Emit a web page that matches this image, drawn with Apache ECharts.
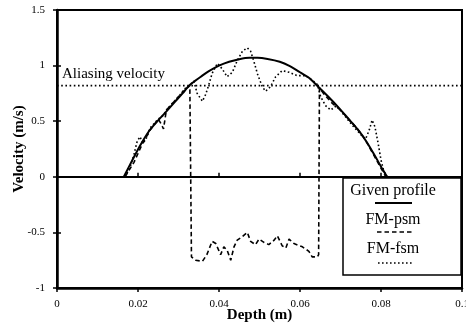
<!DOCTYPE html>
<html>
<head>
<meta charset="utf-8">
<script src="https://cdn.jsdelivr.net/npm/echarts@6/dist/echarts.min.js"></script>
<style>
html,body{margin:0;padding:0;background:#fff;}
#chart{width:466px;height:327px;}
</style>
</head>
<body>
<div id="chart"></div>
<script>
// ---- data ----
const xTickLabels = ['0', '0.02', '0.04', '0.06', '0.08', '0.1'];
const yTickLabels = ['-1', '-0.5', '0', '0.5', '1', '1.5'];

const profileDepth = [0.0165,0.0186,0.0205,0.0227,0.0248,0.0268,0.029,0.031,0.0326,0.034,0.0355,0.0375,0.04,0.0425,0.045,0.0475,0.0495,0.052,0.055,0.0575,0.06,0.0622,0.0645,0.067,0.0696,0.072,0.0746,0.0767,0.0787,0.0802,0.0815];
const profileVel   = [0,0.15,0.28,0.41,0.5,0.58,0.67,0.75,0.82,0.86,0.9,0.95,1.0,1.035,1.058,1.07,1.07,1.06,1.035,0.995,0.94,0.89,0.81,0.72,0.62,0.52,0.41,0.3,0.175,0.08,0];

const psmDepth = [0.0168,0.019,0.021,0.023,0.025,0.0258,0.0263,0.027,0.029,0.031,0.0328,0.0332,0.0342,0.0359,0.037,0.0383,0.0392,0.0404,0.0412,0.042,0.0429,0.0437,0.0445,0.0457,0.047,0.0478,0.049,0.0499,0.0511,0.0523,0.0536,0.0544,0.0556,0.0565,0.0573,0.0585,0.0606,0.0622,0.063,0.0643,0.0646,0.0648,0.066,0.068,0.07,0.072,0.074,0.076,0.078,0.0798,0.0812];
const psmVel   = [0,0.13,0.29,0.42,0.52,0.47,0.43,0.6,0.68,0.76,0.82,-0.72,-0.75,-0.76,-0.7,-0.58,-0.6,-0.7,-0.63,-0.66,-0.75,-0.63,-0.57,-0.54,-0.5,-0.58,-0.61,-0.56,-0.59,-0.61,-0.57,-0.53,-0.62,-0.64,-0.56,-0.6,-0.63,-0.67,-0.72,-0.72,-0.7,0.8,0.74,0.66,0.6,0.52,0.44,0.34,0.21,0.09,0];

const fsmDepth = [0.0168,0.018,0.019,0.0198,0.0205,0.0212,0.022,0.023,0.025,0.0262,0.027,0.0285,0.03,0.0315,0.0326,0.0338,0.0346,0.0359,0.0367,0.0375,0.0383,0.0396,0.0408,0.042,0.0433,0.0445,0.0458,0.047,0.0478,0.0486,0.0495,0.0507,0.0515,0.0527,0.054,0.0556,0.0573,0.0593,0.0614,0.063,0.0643,0.0651,0.0663,0.0676,0.069,0.071,0.073,0.075,0.0762,0.0771,0.0778,0.0785,0.0793,0.08,0.0807,0.0815];
const fsmVel   = [0,0.08,0.2,0.32,0.36,0.3,0.34,0.44,0.52,0.55,0.6,0.66,0.72,0.79,0.82,0.86,0.75,0.68,0.74,0.83,0.93,1.02,0.97,0.9,0.94,1.045,1.13,1.16,1.13,1.04,0.925,0.81,0.77,0.81,0.9,0.955,0.94,0.91,0.91,0.87,0.83,0.72,0.64,0.6,0.64,0.55,0.46,0.38,0.34,0.42,0.51,0.45,0.3,0.15,0.05,0];

const aliasDepth = [0, 0.1];
const aliasVel   = [0.82, 0.82];

// ---- chart ----
const FONT = 'Liberation Serif';
const pairs = (xs, ys) => xs.map((x, i) => [x, ys[i]]);

const chart = echarts.init(document.getElementById('chart'), null, {renderer: 'canvas'});

const xLabelFmt = v => xTickLabels[Math.round(v / 0.02)];
const yLabelFmt = v => yTickLabels[Math.round((v + 1) / 0.5)];

const option = {
  animation: false,
  backgroundColor: '#fff',
  textStyle: {fontFamily: FONT, color: '#000'},
  grid: {left: 57, right: 4, top: 10, bottom: 39, containLabel: false, outerBoundsMode: 'none',
         show: true, borderColor: '#000', borderWidth: 2, backgroundColor: 'transparent'},
  xAxis: [
    {
      type: 'value', min: 0, max: 0.1, interval: 0.02,
      name: 'Depth (m)', nameLocation: 'middle', nameGap: 20, nameMoveOverlap: false,
      nameTextStyle: {fontFamily: FONT, fontSize: 15, fontWeight: 'bold', color: '#000'},
      axisLine: {onZero: false, lineStyle: {color: '#000', width: 2.5}},
      axisTick: {length: 4, lineStyle: {color: '#000', width: 1.5}},
      axisLabel: {margin: 11, fontFamily: FONT, fontSize: 11, color: '#000', formatter: xLabelFmt},
      splitLine: {show: false}
    },
    {
      type: 'value', min: 0, max: 0.1, interval: 0.02, position: 'bottom',
      axisLine: {show: false},
      axisTick: {inside: true, length: 4, lineStyle: {color: '#000', width: 1.5}},
      axisLabel: {show: false}, splitLine: {show: false}
    }
  ],
  yAxis: [
    {
      type: 'value', min: -1, max: 1.5, interval: 0.5,
      name: 'Velocity (m/s)', nameLocation: 'middle', nameGap: 30, nameMoveOverlap: false,
      nameTextStyle: {fontFamily: FONT, fontSize: 15, fontWeight: 'bold', color: '#000'},
      axisLine: {onZero: false, lineStyle: {color: '#000', width: 2.5}},
      axisTick: {length: 4, lineStyle: {color: '#000', width: 1.5}},
      axisLabel: {margin: 12, fontFamily: FONT, fontSize: 11, color: '#000', formatter: yLabelFmt},
      splitLine: {show: false}
    },
    {
      type: 'value', min: -1, max: 1.5, interval: 0.5, position: 'left',
      axisLine: {show: false},
      axisTick: {inside: true, length: 4, lineStyle: {color: '#000', width: 1.5}},
      axisLabel: {show: false}, splitLine: {show: false}
    }
  ],
  series: [
    {
      name: 'Aliasing velocity', type: 'line', symbol: 'none', silent: true,
      data: pairs(aliasDepth, aliasVel),
      lineStyle: {color: '#000', width: 1.6, type: [1.6, 2.6]}
    },
    {
      name: 'Given profile', type: 'line', symbol: 'none', smooth: 0.3,
      data: pairs(profileDepth, profileVel),
      lineStyle: {color: '#000', width: 2},
      markLine: {
        silent: true, symbol: 'none', label: {show: false},
        lineStyle: {color: '#000', width: 2, type: 'solid'},
        data: [{yAxis: 0}]
      }
    },
    {
      name: 'FM-psm', type: 'line', symbol: 'none',
      data: pairs(psmDepth, psmVel),
      lineStyle: {color: '#000', width: 1.6, type: [4.5, 3]}
    },
    {
      name: 'FM-fsm', type: 'line', symbol: 'none',
      data: pairs(fsmDepth, fsmVel),
      lineStyle: {color: '#000', width: 1.6, type: [1.6, 2.4]}
    }
  ],
  graphic: [
    {type: 'text', left: 62, top: 67, z: 10,
     style: {text: 'Aliasing velocity', font: '15px "Liberation Serif"', fill: '#000'}},
    {type: 'rect', z: 20, shape: {x: 343, y: 178, width: 118, height: 97},
     style: {fill: '#fff', stroke: '#000', lineWidth: 1.5}},
    {type: 'text', z: 21, x: 393, y: 191,
     style: {text: 'Given profile', font: '16px "Liberation Serif"', fill: '#000', align: 'center', verticalAlign: 'middle'}},
    {type: 'line', z: 21, shape: {x1: 375, y1: 203, x2: 412, y2: 203}, style: {stroke: '#000', lineWidth: 2}},
    {type: 'text', z: 21, x: 393, y: 220,
     style: {text: 'FM-psm', font: '16px "Liberation Serif"', fill: '#000', align: 'center', verticalAlign: 'middle'}},
    {type: 'line', z: 21, shape: {x1: 377, y1: 232, x2: 412, y2: 232}, style: {stroke: '#000', lineWidth: 1.6, lineDash: [4.5, 3]}},
    {type: 'text', z: 21, x: 393, y: 249,
     style: {text: 'FM-fsm', font: '16px "Liberation Serif"', fill: '#000', align: 'center', verticalAlign: 'middle'}},
    {type: 'line', z: 21, shape: {x1: 378, y1: 263, x2: 412, y2: 263}, style: {stroke: '#000', lineWidth: 1.6, lineDash: [1.6, 2.4]}}
  ]
};
chart.setOption(option);
</script>
</body>
</html>
